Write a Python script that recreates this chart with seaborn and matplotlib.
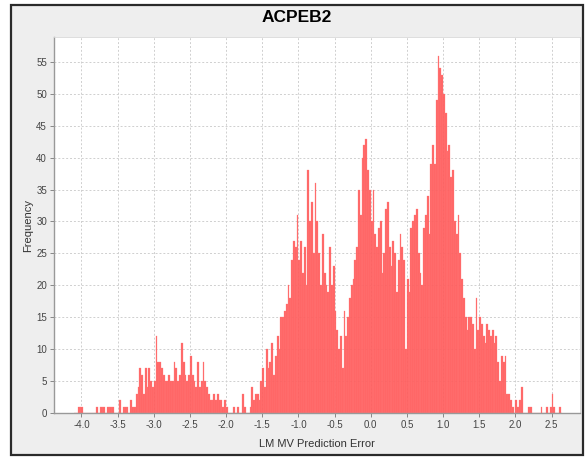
import numpy as np
import pandas as pd
import seaborn as sns
import matplotlib
matplotlib.use("Agg")
import matplotlib.pyplot as plt
from matplotlib.patches import Rectangle

# ---- data ----
title = "ACPEB2"
x_label = "LM MV Prediction Error"
y_label = "Frequency"
bin_start = -4.1
bin_width = 0.025
# counts per 0.025-wide bin, one row per 0.1 of the x axis, from -4.1 upward
counts = [
    0, 0, 1, 1,      # -4.1
    1, 0, 0, 0,      # -4.0
    0, 0, 0, 0,      # -3.9
    1, 0, 1, 1,      # -3.8
    1, 0, 1, 1,      # -3.7
    1, 1, 0, 0,      # -3.6
    0, 2, 0, 1,      # -3.5
    1, 1, 0, 2,      # -3.4
    1, 1, 3, 4,      # -3.3
    7, 6, 3, 7,      # -3.2
    4, 7, 5, 4,      # -3.1
    5, 12, 8, 8,     # -3.0
    7, 6, 5, 5,      # -2.9
    6, 5, 5, 8,      # -2.8
    7, 5, 6, 11,     # -2.7
    8, 6, 5, 6,      # -2.6
    9, 6, 5, 4,      # -2.5
    8, 4, 5, 8,      # -2.4
    5, 4, 3, 2,      # -2.3
    2, 3, 2, 3,      # -2.2
    2, 2, 1, 2,      # -2.1
    1, 0, 0, 0,      # -2.0
    1, 0, 1, 0,      # -1.9
    0, 3, 1, 0,      # -1.8
    0, 1, 4, 2,      # -1.7
    3, 3, 2, 5,      # -1.6
    7, 4, 10, 7,     # -1.5
    8, 11, 6, 9,     # -1.4
    12, 10, 15, 15,  # -1.3
    16, 17, 20, 18,  # -1.2
    24, 27, 26, 31,  # -1.1
    24, 27, 22, 26,  # -1.0
    20, 38, 30, 33,  # -0.9
    25, 36, 30, 25,  # -0.8
    20, 28, 22, 20,  # -0.7
    19, 26, 20, 23,  # -0.6
    16, 13, 10, 12,  # -0.5
    7, 16, 12, 15,   # -0.4
    18, 20, 21, 24,  # -0.3
    26, 35, 31, 40,  # -0.2
    42, 43, 38, 35,  # -0.1
    30, 35, 28, 26,  # 0.0
    29, 30, 22, 25,  # 0.1
    32, 33, 26, 23,  # 0.2
    27, 25, 19, 24,  # 0.3
    28, 26, 24, 10,  # 0.4
    21, 19, 29, 30,  # 0.5
    31, 32, 25, 22,  # 0.6
    20, 29, 31, 34,  # 0.7
    28, 39, 42, 39,  # 0.8
    49, 56, 54, 53,  # 0.9
    50, 47, 41, 42,  # 1.0
    37, 38, 30, 28,  # 1.1
    31, 25, 21, 18,  # 1.2
    15, 13, 15, 15,  # 1.3
    14, 10, 18, 13,  # 1.4
    15, 14, 12, 11,  # 1.5
    14, 13, 12, 13,  # 1.6
    11, 12, 8, 5,    # 1.7
    9, 8, 9, 3,      # 1.8
    3, 2, 1, 0,      # 1.9
    2, 1, 2, 4,      # 2.0
    0, 0, 0, 1,      # 2.1
    1, 0, 0, 0,      # 2.2
    0, 0, 1, 0,      # 2.3
    0, 1, 0, 1,      # 2.4
    3, 1, 0, 0,      # 2.5
    1, 0,            # 2.6
]
x_ticks = [-4.0, -3.5, -3.0, -2.5, -2.0, -1.5, -1.0, -0.5, 0.0, 0.5, 1.0, 1.5, 2.0, 2.5]
y_ticks = [0, 5, 10, 15, 20, 25, 30, 35, 40, 45, 50, 55]

# ---- build table ----
n = len(counts)
edges = [float(bin_start + bin_width * i) for i in range(n + 1)]
centers = [(edges[i] + edges[i + 1]) / 2 for i in range(n)]
df = pd.DataFrame({"error": centers, "count": [float(c) for c in counts]})

# ---- figure ----
sns.set_theme(style="white")
plt.rcParams["font.family"] = ["Liberation Sans", "DejaVu Sans"]

W, H = 585, 462
fig = plt.figure(figsize=(W / 100, H / 100), dpi=100)
fig.patch.set_facecolor("white")
frame = Rectangle((11 / W, 1 - 455 / H), (583 - 11) / W, (455 - 5) / H,
                  transform=fig.transFigure, facecolor="#eeeeee",
                  edgecolor="#2a2a2a", linewidth=1.6, zorder=-10)
fig.add_artist(frame)

L, R, T, B = 54, 580, 37, 413
ax = fig.add_axes([L / W, 1 - B / H, (R - L) / W, (B - T) / H])
ax.set_zorder(1)
ax.set_facecolor("white")

sns.histplot(data=df, x="error", weights="count", bins=edges, ax=ax,
             color="#ff5a5a", alpha=0.92, edgecolor="#ff7a7a", linewidth=0.2,
             element="bars", fill=True)

ax.set_xlim(-4.38, 2.894)
ax.set_ylim(0, 58.9)
ax.set_xticks(x_ticks)
ax.set_xticklabels([f"{t:.1f}" for t in x_ticks])
ax.set_yticks(y_ticks)
ax.set_yticklabels([str(t) for t in y_ticks])

ax.grid(True, color="#cfcfcf", linestyle=(0, (2, 2)), linewidth=0.7)
ax.set_axisbelow(True)
for s in ["top", "right"]:
    ax.spines[s].set_visible(True)
    ax.spines[s].set_color("#d8d8d8")
    ax.spines[s].set_linewidth(0.6)
for s in ["left", "bottom"]:
    ax.spines[s].set_color("#999999")
    ax.spines[s].set_linewidth(1.0)

ax.tick_params(axis="both", which="major", labelsize=7, colors="#777777",
               labelcolor="#444444", length=3, width=0.6, direction="out",
               bottom=True, left=True, pad=2)

ax.set_xlabel(x_label, fontsize=8, color="#333333")
ax.set_ylabel(y_label, fontsize=8, color="#333333")
ax.xaxis.set_label_coords(0.5, -(444 - B) / (B - T), transform=ax.transAxes)
ax.yaxis.set_label_coords(-(L - 28) / (R - L), 0.5, transform=ax.transAxes)
ax.xaxis.label.set_va("center")
ax.yaxis.label.set_va("center")

fig.text(297 / W, 1 - 18 / H, title, ha="center", va="center",
         fontsize=12.5, fontweight="bold", color="black")

fig.savefig("out.png", dpi=100, facecolor=fig.get_facecolor())
